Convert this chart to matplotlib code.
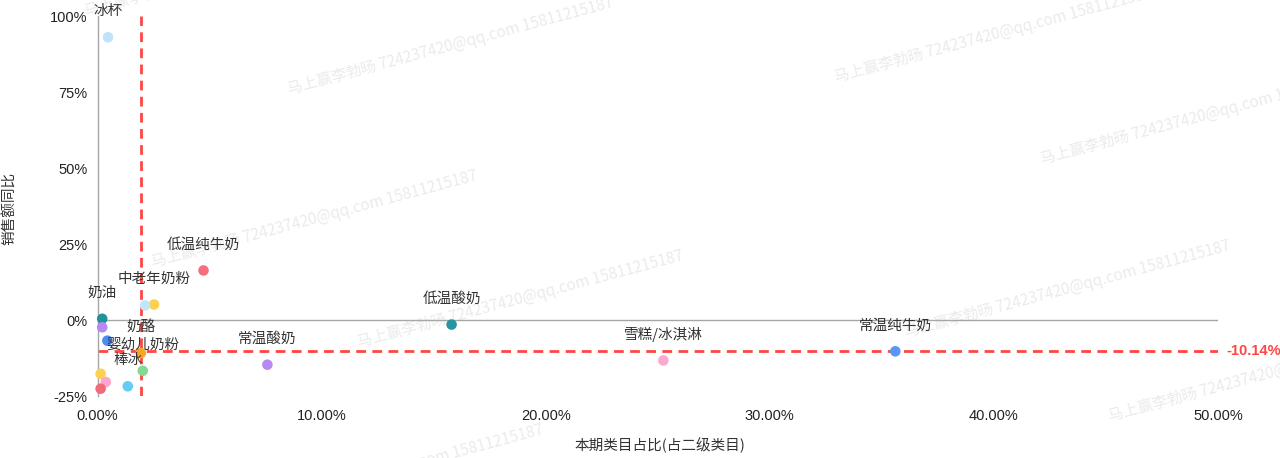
import matplotlib
matplotlib.use("Agg")
import matplotlib.pyplot as plt
from matplotlib.ticker import FuncFormatter

# ---------------- data ----------------
names = ["冰杯", "低温纯牛奶", "中老年奶粉", "", "奶油", "", "", "奶酪", "婴幼儿奶粉",
         "", "", "棒冰", "", "常温酸奶", "低温酸奶", "雪糕/冰淇淋", "常温纯牛奶"]
share = [0.47, 4.73, 2.52, 2.12, 0.21, 0.21, 0.44, 1.93, 2.02,
         0.14, 0.37, 1.35, 0.14, 7.58, 15.8, 25.25, 35.6]          # 本期类目占比 (%)
yoy = [93.0, 16.3, 5.1, 4.8, 0.4, -2.4, -6.8, -10.9, -16.7,
       -17.7, -20.4, -21.8, -22.6, -14.7, -1.5, -13.3, -10.3]       # 销售额同比 (%)
colors = ["#bfe3f8", "#f5707c", "#fdd04e", "#bfe6fb", "#21919c", "#b88af1", "#4d8cf0",
          "#f5a623", "#85da91", "#fdd04e", "#fda5cd", "#62cdf7", "#f26b7a",
          "#b88af1", "#2896a2", "#fca9d0", "#5b95f5"]
avg_share = 1.92
avg_yoy = -10.14
x_ticks = [0, 10, 20, 30, 40, 50]
y_ticks = [-25, 0, 25, 50, 75, 100]

watermark = "马上赢李勃旸 724237420@qq.com 15811215187"
wm_pos = [(85, 12), (288, 90), (835, 78), (152, 263), (1041, 160),
          (358, 343), (905, 333), (218, 517), (1109, 417)]

# ---------------- figure ----------------
W, H = 1280, 458
fig = plt.figure(figsize=(W / 100, H / 100), dpi=100)
cjk = ["Noto Sans CJK SC", "DejaVu Sans"]
num = ["Liberation Sans", "DejaVu Sans"]

for (px, py) in wm_pos:
    fig.text(px / W, 1 - py / H, watermark, rotation=15, rotation_mode="anchor",
             ha="left", va="center", fontsize=11, color="#ebebeb",
             family=cjk, zorder=-1)

left, right = 97.5, 1218
top, bottom = 16, 396
ax = fig.add_axes([left / W, 1 - bottom / H, (right - left) / W, (bottom - top) / H])
ax.patch.set_alpha(0)

ax.set_xlim(0, 50)
ax.set_ylim(-25, 100)

for s in ["top", "right", "bottom"]:
    ax.spines[s].set_visible(False)
ax.spines["left"].set_color("#a6a6a6")
ax.spines["left"].set_linewidth(1)
ax.axhline(0, color="#a6a6a6", lw=1, zorder=1)

ax.set_xticks(x_ticks)
ax.set_yticks(y_ticks)
ax.xaxis.set_major_formatter(FuncFormatter(lambda v, p: f"{v:.2f}%"))
ax.yaxis.set_major_formatter(FuncFormatter(lambda v, p: f"{v:.0f}%"))
ax.tick_params(axis="both", length=0, labelsize=10.5, labelcolor="#222222")
ax.tick_params(axis="x", pad=9)
ax.tick_params(axis="y", pad=7)
for lab in ax.get_xticklabels() + ax.get_yticklabels():
    lab.set_family(num)

# reference lines
dash = (0, (3.5, 2.3))
ax.axvline(avg_share, color="#ff4545", lw=2.0, ls=dash, zorder=2)
ax.axhline(avg_yoy, color="#ff4545", lw=2.0, ls=dash, zorder=2)
ax.annotate(f"{avg_yoy:.2f}%", xy=(1, avg_yoy), xycoords=("axes fraction", "data"),
            xytext=(6, 0), textcoords="offset points", ha="left", va="center",
            color="#ff4545", fontsize=10.5, fontweight="bold", family=num,
            annotation_clip=False)

# scatter
ax.scatter(share, yoy, s=58, c=colors, edgecolors="none", zorder=3, clip_on=False)
for n, xv, yv in zip(names, share, yoy):
    if n:
        ax.annotate(n, xy=(xv, yv), xytext=(0, 18.7), textcoords="offset points",
                    ha="center", va="center", fontsize=10.5, color="#333333",
                    family=cjk, zorder=4, annotation_clip=False)

# axis titles
fig.text(10 / W, 1 - 208 / H, "销售额同比", rotation=90, ha="center", va="center",
         fontsize=10.5, color="#333333", family=cjk)
fig.text(660 / W, 1 - 445 / H, "本期类目占比(占二级类目)", ha="center", va="center",
         fontsize=10.5, color="#333333", family=cjk)

fig.savefig("out.png", dpi=100)
